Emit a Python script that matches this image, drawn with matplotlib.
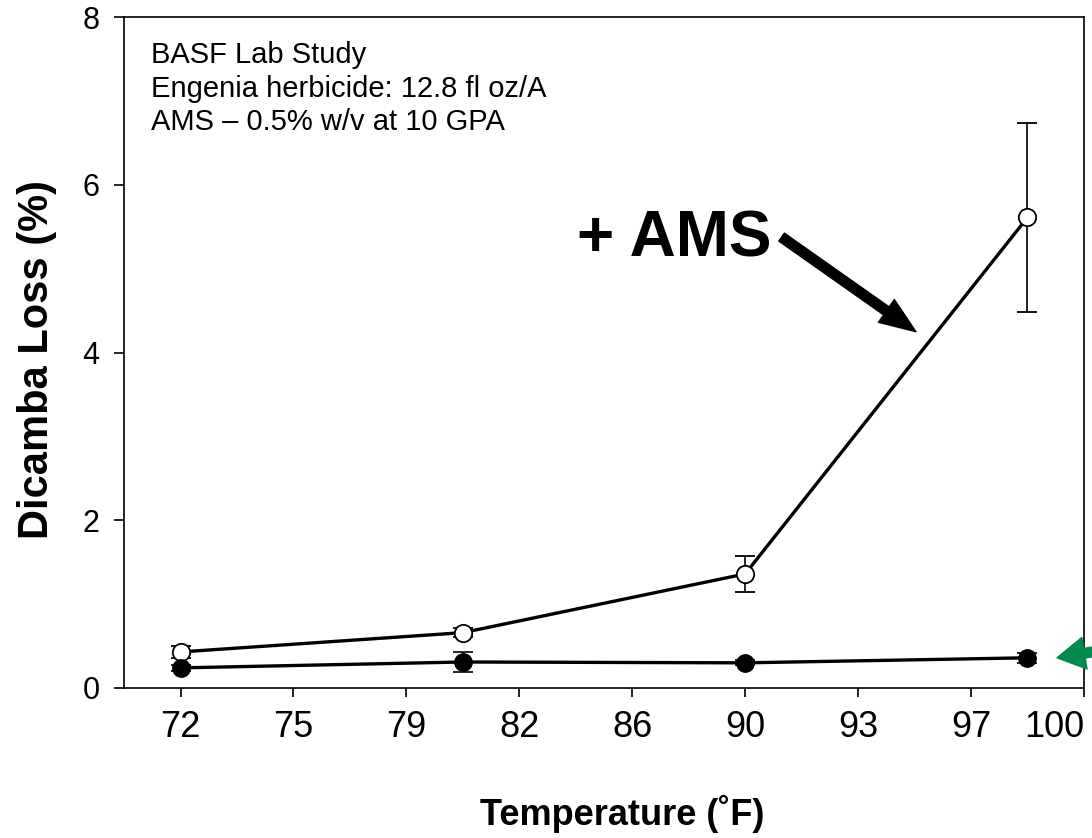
import matplotlib.pyplot as plt

plt.rcParams['font.family'] = ['Liberation Sans', 'DejaVu Sans']

# temperatures were run in Celsius, axis labelled in Fahrenheit
temp_c = [22, 27, 32, 37]
ams_loss = [0.43, 0.66, 1.36, 5.61]
ams_err = [0.07, 0.05, 0.21, 1.13]
no_ams_loss = [0.24, 0.31, 0.30, 0.36]
no_ams_err = [0.04, 0.12, 0.03, 0.06]

tick_c = [22, 24, 26, 28, 30, 32, 34, 36, 38]
tick_f = ['72', '75', '79', '82', '86', '90', '93', '97', '100']

note_lines = ['BASF Lab Study',
              'Engenia herbicide: 12.8 fl oz/A',
              'AMS – 0.5% w/v at 10 GPA']

fig = plt.figure(figsize=(10.92, 8.38), dpi=100)
ax = fig.add_axes([0.1136, 0.179, 0.879, 0.8007])

ax.errorbar(temp_c, ams_loss, yerr=ams_err, color='black', lw=2.4,
            marker='o', ms=12.5, mfc='white', mec='black', mew=1.3,
            ecolor='black', elinewidth=1.2, capsize=7.5, capthick=1.2, zorder=3)
ax.errorbar(temp_c, no_ams_loss, yerr=no_ams_err, color='black', lw=2.4,
            marker='o', ms=12.5, mfc='black', mec='black',
            ecolor='black', elinewidth=1.2, capsize=7.5, capthick=1.2, zorder=3)

ax.set_xlim(21, 38)
ax.set_ylim(0, 8)
ax.set_xticks(tick_c)
ax.set_xticklabels(tick_f)
ax.get_xticklabels()[-1].set_horizontalalignment('right')
ax.set_yticks([0, 2, 4, 6, 8])
ax.tick_params(axis='x', direction='out', length=6.5, width=1.2, labelsize=26, pad=9)
ax.tick_params(axis='y', direction='out', length=7.5, width=1.2, labelsize=22, pad=10)
for s in ax.spines.values():
    s.set_linewidth(1.2)

ax.set_xlabel('Temperature (˚F)', fontsize=26, fontweight='bold')
ax.xaxis.set_label_coords(0.519, -0.159)
ax.set_ylabel('Dicamba Loss (%)', fontsize=30, fontweight='bold')
ax.yaxis.set_label_coords(-0.07, 0.49)

for i, line in enumerate(note_lines):
    ax.text(0.028, 0.931 - i * 0.0495, line, transform=ax.transAxes,
            fontsize=21, va='baseline', ha='left')

ax.text(0.573, 0.668, '+ AMS', transform=ax.transAxes, fontsize=46,
        fontweight='bold', ha='center', va='center')
ax.annotate('', xy=(0.825, 0.531), xytext=(0.685, 0.672),
            xycoords='axes fraction', textcoords='axes fraction',
            arrowprops=dict(arrowstyle='simple,head_length=1.3,head_width=1.0,tail_width=0.35',
                            color='black', mutation_scale=20, shrinkA=0, shrinkB=0))

# green arrow coming in from beyond the right edge
ax.annotate('', xy=(0.972, 0.045), xytext=(1.06, 0.066),
            xycoords='axes fraction', textcoords='axes fraction',
            arrowprops=dict(arrowstyle='simple,head_length=1.0,head_width=1.15,tail_width=0.35',
                            color='#008a4b', mutation_scale=20, shrinkA=0, shrinkB=0),
            annotation_clip=False, zorder=5)

fig.savefig('out.png', dpi=100)
